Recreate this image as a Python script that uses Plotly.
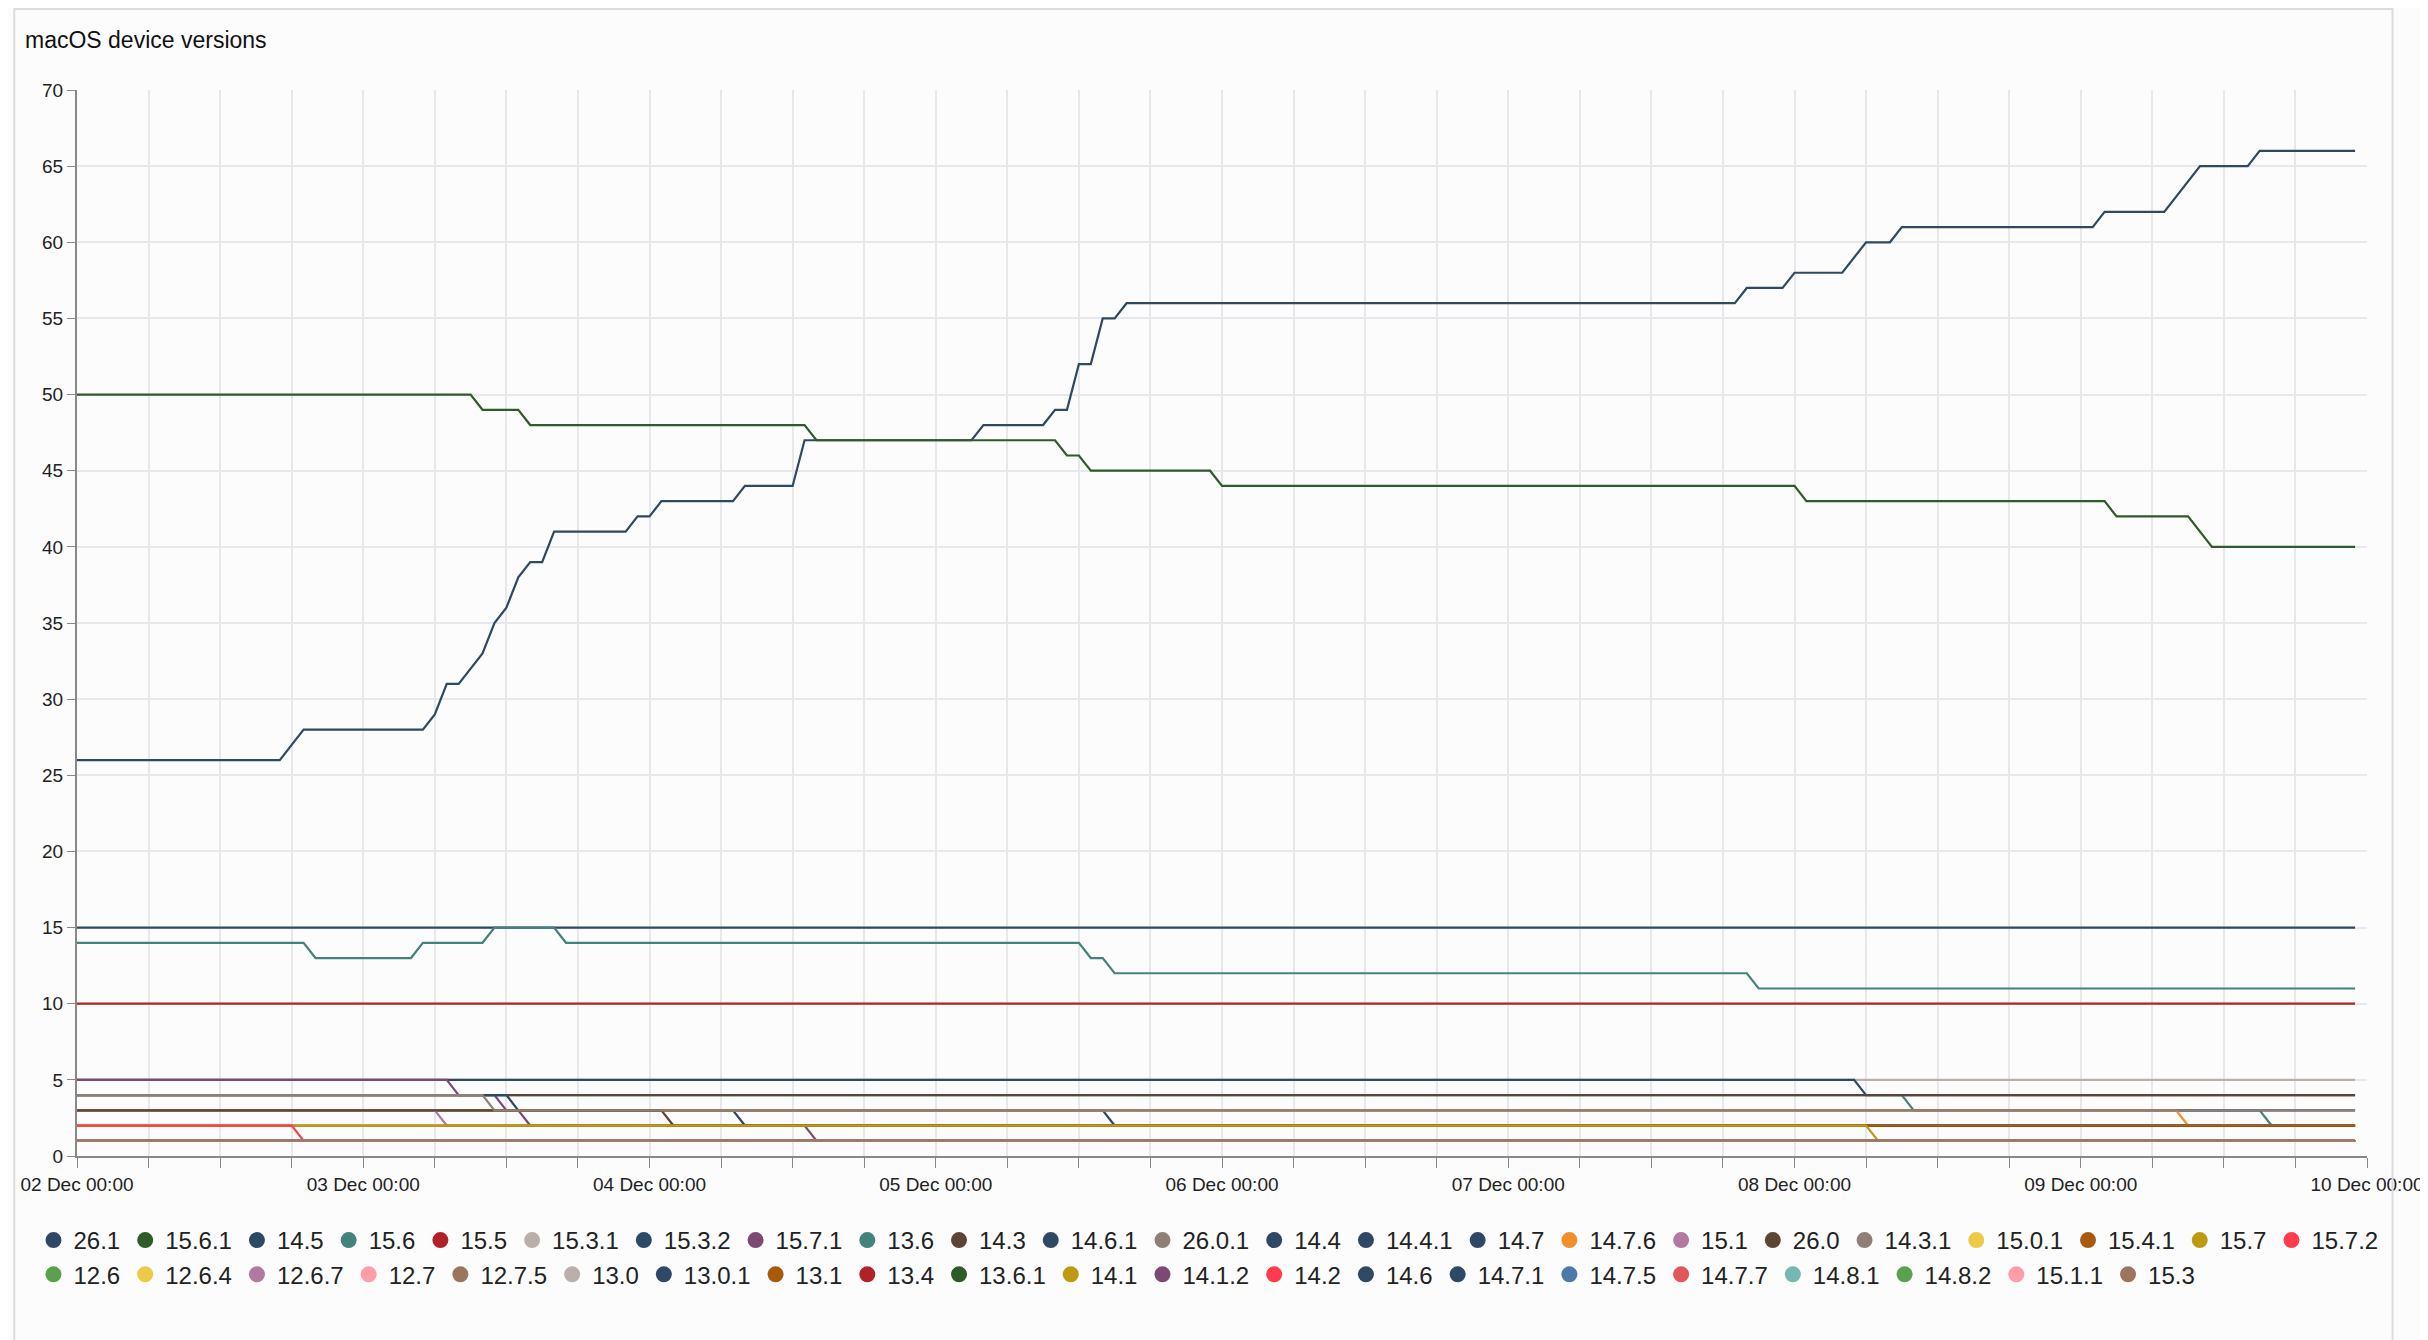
import pandas as pd
import plotly.graph_objects as go

# versions in legend order: (name, colour, hours, counts)
NAVY = '#2d4963'
base = pd.Timestamp('2025-12-02 00:00')
END = 191

v26_1_h = [0, 17, 19, 29, 30, 31, 32, 34, 35, 36, 37, 38, 39, 40, 46, 47, 48, 49, 55, 56, 60, 61, 75, 76, 81, 82, 83, 84, 85,
           86, 87, 88, 139, 140, 143, 144, 148, 150, 152, 153, 169, 170, 175, 178, 182, 183, 191]
v26_1_v = [26, 26, 28, 28, 29, 31, 31, 33, 35, 36, 38, 39, 39, 41, 41, 42, 42, 43, 43, 44, 44, 47, 47, 48, 48, 49, 49, 52, 52,
           55, 55, 56, 56, 57, 57, 58, 58, 60, 60, 61, 61, 62, 62, 65, 65, 66, 66]
v15_6_1_h = [0, 33, 34, 37, 38, 61, 62, 82, 83, 84, 85, 95, 96, 144, 145, 170, 171, 177, 179, 191]
v15_6_1_v = [50, 50, 49, 49, 48, 48, 47, 47, 46, 46, 45, 45, 44, 44, 43, 43, 42, 42, 40, 40]
v15_6_h = [0, 19, 20, 28, 29, 34, 35, 40, 41, 84, 85, 86, 87, 140, 141, 191]
v15_6_v = [14, 14, 13, 13, 14, 14, 15, 15, 14, 14, 13, 13, 12, 12, 11, 11]

series = [
    ('26.1', NAVY, v26_1_h, v26_1_v),
    ('15.6.1', '#2f5a2a', v15_6_1_h, v15_6_1_v),
    ('14.5', NAVY, [0, END], [15, 15]),
    ('15.6', '#44827c', v15_6_h, v15_6_v),
    ('15.5', '#b22028', [0, END], [10, 10]),
    ('15.3.1', '#bab0ab', [0, END], [5, 5]),
    ('15.3.2', NAVY, [0, 149, 150, END], [5, 5, 4, 4]),
    ('15.7.1', '#7b4a73', [0, 31, 32, 35, 36, 37, 38, 61, 62, END], [5, 5, 4, 4, 3, 3, 2, 2, 1, 1]),
    ('13.6', '#44827c', [0, 153, 154, 183, 184, END], [4, 4, 3, 3, 2, 2]),
    ('14.3', '#5c4535', [0, END], [4, 4]),
    ('14.6.1', NAVY, [0, 36, 37, 55, 56, END], [4, 4, 3, 3, 2, 2]),
    ('26.0.1', '#8f7f76', [0, END], [1, 1]),
    ('14.4', NAVY, [0, 86, 87, END], [3, 3, 2, 2]),
    ('14.4.1', NAVY, [0, END], [3, 3]),
    ('14.7', NAVY, [0, END], [1, 1]),
    ('14.7.6', '#f28e2b', [0, 176, 177, END], [3, 3, 2, 2]),
    ('15.1', '#b07aa1', [0, 30, 31, END], [3, 3, 2, 2]),
    ('26.0', '#5c4535', [0, 49, 50, END], [3, 3, 2, 2]),
    ('14.3.1', '#8f7f76', [0, 34, 35, END], [4, 4, 3, 3]),
    ('15.0.1', '#edc948', [0, END], [1, 1]),
    ('15.4.1', '#a9590c', [0, END], [2, 2]),
    ('15.7', '#bd9a12', [0, 150, 151, END], [2, 2, 1, 1]),
    ('15.7.2', '#ff3b4e', [0, 18, 19, END], [2, 2, 1, 1]),
    ('12.6', '#59a14f', [0, END], [1, 1]),
    ('12.6.4', '#edc948', [0, END], [1, 1]),
    ('12.6.7', '#b07aa1', [0, END], [1, 1]),
    ('12.7', '#ff9da7', [0, END], [1, 1]),
    ('12.7.5', '#9c755f', [0, END], [1, 1]),
    ('13.0', '#bab0ab', [0, END], [1, 1]),
    ('13.0.1', NAVY, [0, END], [1, 1]),
    ('13.1', '#a9590c', [0, END], [1, 1]),
    ('13.4', '#b22028', [0, END], [1, 1]),
    ('13.6.1', '#2f5a2a', [0, END], [1, 1]),
    ('14.1', '#bd9a12', [0, END], [1, 1]),
    ('14.1.2', '#7b4a73', [0, END], [1, 1]),
    ('14.2', '#ff3b4e', [0, END], [1, 1]),
    ('14.6', NAVY, [0, END], [1, 1]),
    ('14.7.1', NAVY, [0, END], [1, 1]),
    ('14.7.5', '#4e79a7', [0, END], [1, 1]),
    ('14.7.7', '#e15759', [0, END], [1, 1]),
    ('14.8.1', '#76b7b2', [0, END], [1, 1]),
    ('14.8.2', '#59a14f', [0, END], [1, 1]),
    ('15.1.1', '#ff9da7', [0, END], [1, 1]),
    ('15.3', '#9c755f', [0, END], [1, 1]),
]

fig = go.Figure()
for name, col, hrs, vals in series:
    xs = [base + pd.Timedelta(hours=h) for h in hrs]
    fig.add_trace(go.Scatter(x=xs, y=vals, mode='lines', line=dict(color=col, width=2.2),
                             name=name, legendgroup=name, showlegend=False))
for name, col, hrs, vals in series:
    fig.add_trace(go.Scatter(x=[None], y=[None], mode='markers', name=name, legendgroup=name,
                             marker=dict(color=col, size=21, symbol='circle')))

tickvals = [base + pd.Timedelta(hours=6 * i) for i in range(33)]
ticktext = [t.strftime('%d %b %H:%M') if t.hour == 0 else '' for t in tickvals]

T, B = 82, 192
H = 1340 - T - B
fig.update_layout(
    width=2428, height=1340,
    font=dict(family='Liberation Sans, Arial, sans-serif', size=19, color='#222'),
    title=dict(text='macOS device versions', x=0.007, xanchor='left', y=1 - 32 / 1340, yanchor='middle',
               pad=dict(l=0, t=0), font=dict(size=23, color='#111')),
    paper_bgcolor='#fcfcfc', plot_bgcolor='#fcfcfc',
    margin=dict(l=65, r=27, t=T, b=B),
    legend=dict(orientation='h', x=-0.019, xanchor='left', y=-62 / H, yanchor='top',
                font=dict(size=24), itemwidth=30, tracegroupgap=0),
    shapes=[dict(type='rect', xref='paper', yref='paper', x0=-64 / 2336, x1=1 + 26 / 2336,
                 y0=-(B - 1) / H, y1=1 + (T - 1) / H, line=dict(color='#dcdce0', width=2))],
)
fig.update_xaxes(range=[base, base + pd.Timedelta(days=8)], tickvals=tickvals, ticktext=ticktext,
                 ticks='outside', ticklen=10, tickcolor='#888', showline=True, linecolor='#888', linewidth=2,
                 gridcolor='#e8e8ec', gridwidth=1.5, tickfont=dict(size=19), zeroline=False,
                 ticklabeloverflow='allow')
fig.update_yaxes(range=[0, 70], dtick=5, ticks='outside', ticklen=8, tickcolor='#888', showline=True,
                 linecolor='#888', linewidth=2, gridcolor='#e8e8ec', gridwidth=1.5, tickfont=dict(size=19),
                 zeroline=False)

fig.write_html('out.html')
